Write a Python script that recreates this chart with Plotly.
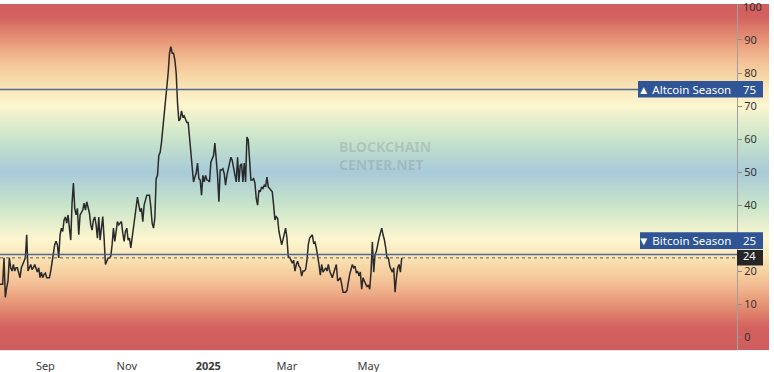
import plotly.graph_objects as go
import pandas as pd

# ---------------- data ----------------
start_date = "2024-07-29"
altseason_index = [
    16, 16, 16, 24, 12, 15, 17, 24, 21, 20,
    22, 20, 21, 21, 19.4, 18, 21, 22.4, 23, 24,
    31, 20, 21, 22, 20.5, 21, 22, 21, 19.7, 21,
    18, 19.7, 18, 19, 19.4, 18, 18, 18, 20, 23,
    26.5, 28, 29, 28, 24, 31, 33, 32, 35.5, 36.4,
    34.5, 37, 33, 29.4, 40.6, 46.7, 39, 37, 39, 31,
    37, 38, 38.5, 40.6, 38.5, 41, 39, 37.6, 34, 32.4,
    35.5, 36.4, 34, 30, 36.4, 29.4, 33, 36.5, 30, 22,
    23, 24, 24, 24.5, 28, 33, 29, 32, 35, 34,
    34.5, 35, 31.5, 29, 32, 33, 29.4, 30, 27, 30,
    33.5, 35, 38, 42.4, 40, 38, 39, 35, 40, 41.5,
    43, 43, 43, 39.4, 34.5, 33, 36, 48, 49, 55,
    56, 59, 63, 69, 71, 75, 80, 86, 88, 86,
    86, 84, 80, 71, 65.5, 66, 68.5, 66.7, 67, 66,
    65, 65, 60, 55, 50.6, 47, 48.5, 49.7, 52.7, 48,
    47.6, 43, 49, 47, 49, 47.6, 47.5, 47, 53, 54,
    55, 58.8, 54.5, 49, 41, 50.6, 50.6, 51, 49.5, 46,
    49, 51, 53, 54.5, 53.5, 51, 49, 47, 54.5, 47,
    52, 52.5, 47, 52.7, 47, 60.6, 59.7, 52, 47.6, 47.6,
    48, 46.7, 42, 40, 44.5, 44, 45.5, 45, 46, 45.5,
    48.5, 45.5, 45, 44.5, 44, 40, 35.5, 36.5, 36, 32,
    29.4, 28, 29.5, 31, 33, 30, 24.2, 24.2, 23.5, 22.4,
    23.3, 20, 22, 23, 21.5, 21, 18.5, 20, 20, 20.5,
    23.3, 28, 30, 30.5, 31, 28.5, 28.8, 27, 25, 22,
    18.8, 22, 19.7, 20.5, 21, 20, 22, 20, 19, 18,
    19.4, 21, 22, 17, 17.5, 18, 16, 13.6, 13.6, 13.6,
    14.2, 17, 19, 20.5, 22, 21, 21.5, 19.4, 20, 18.5,
    19.7, 14.5, 18, 17, 16, 15.2, 15.8, 14.5, 19.7, 28.8,
    19.7, 25, 26, 28.5, 30, 31.5, 33, 31, 29.5, 27,
    24, 24, 21.5, 20.5, 19.7, 21, 13.6, 18, 21, 22,
    19.7, 24,
]
x_tick_dates = ["2024-09-01", "2024-11-01", "2025-01-01", "2025-03-01", "2025-05-01"]
x_tick_labels = ["Sep", "Nov", "<b>2025</b>", "Mar", "May"]
y_tick_values = [0, 10, 20, 40, 50, 60, 70, 80, 90, 100]
y_tick_labels = ["0", "10", "20", "40", "50", "60", "70", "80", "90", ""]
y_top_label = "100"
altcoin_level = 75
bitcoin_level = 25
altcoin_label = "▲ Altcoin Season"
bitcoin_label = "▼ Bitcoin Season"
watermark = "BLOCKCHAIN<br>CENTER.NET"

dates = pd.date_range(start_date, periods=len(altseason_index), freq="D")
last_value = altseason_index[-1]

# ---------------- layout constants ----------------
W, H = 774, 372
ML, MR, MT, MB = 0, 37, 4, 22
PW = W - ML - MR
YMIN, YMAX = -3.9, 100.9
x_start = pd.Timestamp(start_date)
x_end = x_start + pd.Timedelta(days=552.2)


def px(p):
    return p / PW


def py(v):
    return (v - YMIN) / (YMAX - YMIN)


# gradient colour stops (value, rgb)
stops = [
    (-5, (207, 92, 92)), (3, (211, 98, 95)), (10, (230, 148, 118)),
    (16, (243, 190, 148)), (21, (247, 214, 165)), (25, (249, 232, 190)),
    (30, (252, 246, 207)), (40, (200, 228, 202)), (50, (168, 202, 216)),
    (60, (200, 228, 202)), (70, (252, 246, 207)), (75, (249, 232, 190)),
    (79, (247, 214, 165)), (84, (243, 190, 148)), (90, (230, 148, 118)),
    (97, (211, 98, 95)), (105, (207, 92, 92)),
]


def grad_color(v):
    for (v0, c0), (v1, c1) in zip(stops[:-1], stops[1:]):
        if v0 <= v <= v1:
            t = (v - v0) / (v1 - v0)
            return "rgb(%d,%d,%d)" % tuple(round(a + (b - a) * t) for a, b in zip(c0, c1))
    return "rgb(%d,%d,%d)" % stops[-1][1]


shapes = []
step = 0.5
v = YMIN
while v < YMAX:
    v1 = min(v + step, YMAX)
    shapes.append(dict(type="rect", xref="paper", yref="paper",
                       x0=0, x1=px(769), y0=py(v), y1=min(py(v1 + step), 1.0),
                       fillcolor=grad_color((v + v1) / 2), line=dict(width=0),
                       layer="below"))
    v = v1

# level lines
line_col = "rgba(70,90,135,0.9)"
shapes += [
    dict(type="line", xref="paper", yref="paper", x0=0, x1=1,
         y0=py(altcoin_level), y1=py(altcoin_level), line=dict(color=line_col, width=1.5)),
    dict(type="line", xref="paper", yref="paper", x0=0, x1=1,
         y0=py(bitcoin_level), y1=py(bitcoin_level), line=dict(color=line_col, width=1.5)),
    dict(type="line", xref="paper", yref="paper", x0=0, x1=1,
         y0=py(last_value), y1=py(last_value), line=dict(color="#6a5a40", width=1, dash="dot")),
]

box_blue = "#2f5596"
# label boxes (altcoin centred on its line, bitcoin pushed up above the last-value tag)
alt_box = (altcoin_level - 2.45, altcoin_level + 2.6)
btc_box = (26.7, 31.8)
last_box = (last_value - 2.3, last_value + 2.4)
shapes += [
    dict(type="rect", xref="paper", yref="paper", x0=px(638), x1=px(763),
         y0=py(alt_box[0]), y1=py(alt_box[1]), fillcolor=box_blue, line=dict(width=0), layer="above"),
    dict(type="rect", xref="paper", yref="paper", x0=px(640), x1=px(763),
         y0=py(btc_box[0]), y1=py(btc_box[1]), fillcolor=box_blue, line=dict(width=0), layer="above"),
    dict(type="rect", xref="paper", yref="paper", x0=px(737), x1=px(763),
         y0=py(last_box[0]), y1=py(last_box[1]), fillcolor="#262626", line=dict(width=0), layer="above"),
]

FONT = "Noto Sans"
lab_font = dict(family=FONT, size=11.5, color="white")
annotations = [
    dict(xref="paper", yref="paper", x=px(733), y=py(sum(alt_box) / 2), text=altcoin_label,
         xanchor="right", yanchor="middle", showarrow=False, font=lab_font),
    dict(xref="paper", yref="paper", x=px(741), y=py(sum(alt_box) / 2), text=str(altcoin_level),
         xanchor="left", yanchor="middle", showarrow=False, font=lab_font),
    dict(xref="paper", yref="paper", x=px(733), y=py(sum(btc_box) / 2), text=bitcoin_label,
         xanchor="right", yanchor="middle", showarrow=False, font=lab_font),
    dict(xref="paper", yref="paper", x=px(741), y=py(sum(btc_box) / 2), text=str(bitcoin_level),
         xanchor="left", yanchor="middle", showarrow=False, font=lab_font),
    dict(xref="paper", yref="paper", x=px(741), y=py(sum(last_box) / 2 + 0.8), text=str(last_value),
         xanchor="left", yanchor="middle", showarrow=False,
         font=dict(family=FONT, size=11, color="white")),
    dict(xref="paper", yref="paper", x=px(741), y=py(100), text=y_top_label,
         xanchor="left", yanchor="middle", showarrow=False,
         font=dict(family=FONT, size=11, color="#333333")),
    dict(xref="paper", yref="paper", x=px(385), y=py(55), text="<b>" + watermark + "</b>",
         xanchor="center", yanchor="middle", showarrow=False,
         font=dict(family=FONT, size=14, color="rgba(120,130,135,0.28)"), align="left"),
]

fig = go.Figure()
fig.add_trace(go.Scatter(x=dates, y=altseason_index, mode="lines",
                         line=dict(color="#2a2a2a", width=1.5), hoverinfo="skip",
                         showlegend=False))

fig.update_layout(
    width=W, height=H, autosize=False,
    margin=dict(l=ML, r=MR, t=MT, b=MB, pad=0, autoexpand=False),
    paper_bgcolor="white", plot_bgcolor="rgba(0,0,0,0)",
    shapes=shapes, annotations=annotations, showlegend=False,
    xaxis=dict(type="date", range=[x_start, x_end], tickvals=x_tick_dates,
               ticktext=x_tick_labels, showgrid=False, zeroline=False, automargin=False,
               ticks="outside", ticklen=6, tickcolor="rgba(0,0,0,0)",
               tickfont=dict(family=FONT, size=11, color="#3a3a3a"),
               showline=True, linecolor="#e2e2e2", linewidth=1),
    yaxis=dict(side="right", range=[YMIN, YMAX], tickvals=y_tick_values,
               ticktext=y_tick_labels, automargin=False,
               showgrid=False, zeroline=False, ticks="outside", ticklen=4,
               tickcolor="#8c8c8c", showline=True, linecolor="#a0a0a0", linewidth=1,
               tickfont=dict(family=FONT, size=11, color="#333333")),
)

fig.write_html("out.html", config={"displayModeBar": False},
               post_script="document.body.style.margin='0';document.body.style.overflow='hidden';")
